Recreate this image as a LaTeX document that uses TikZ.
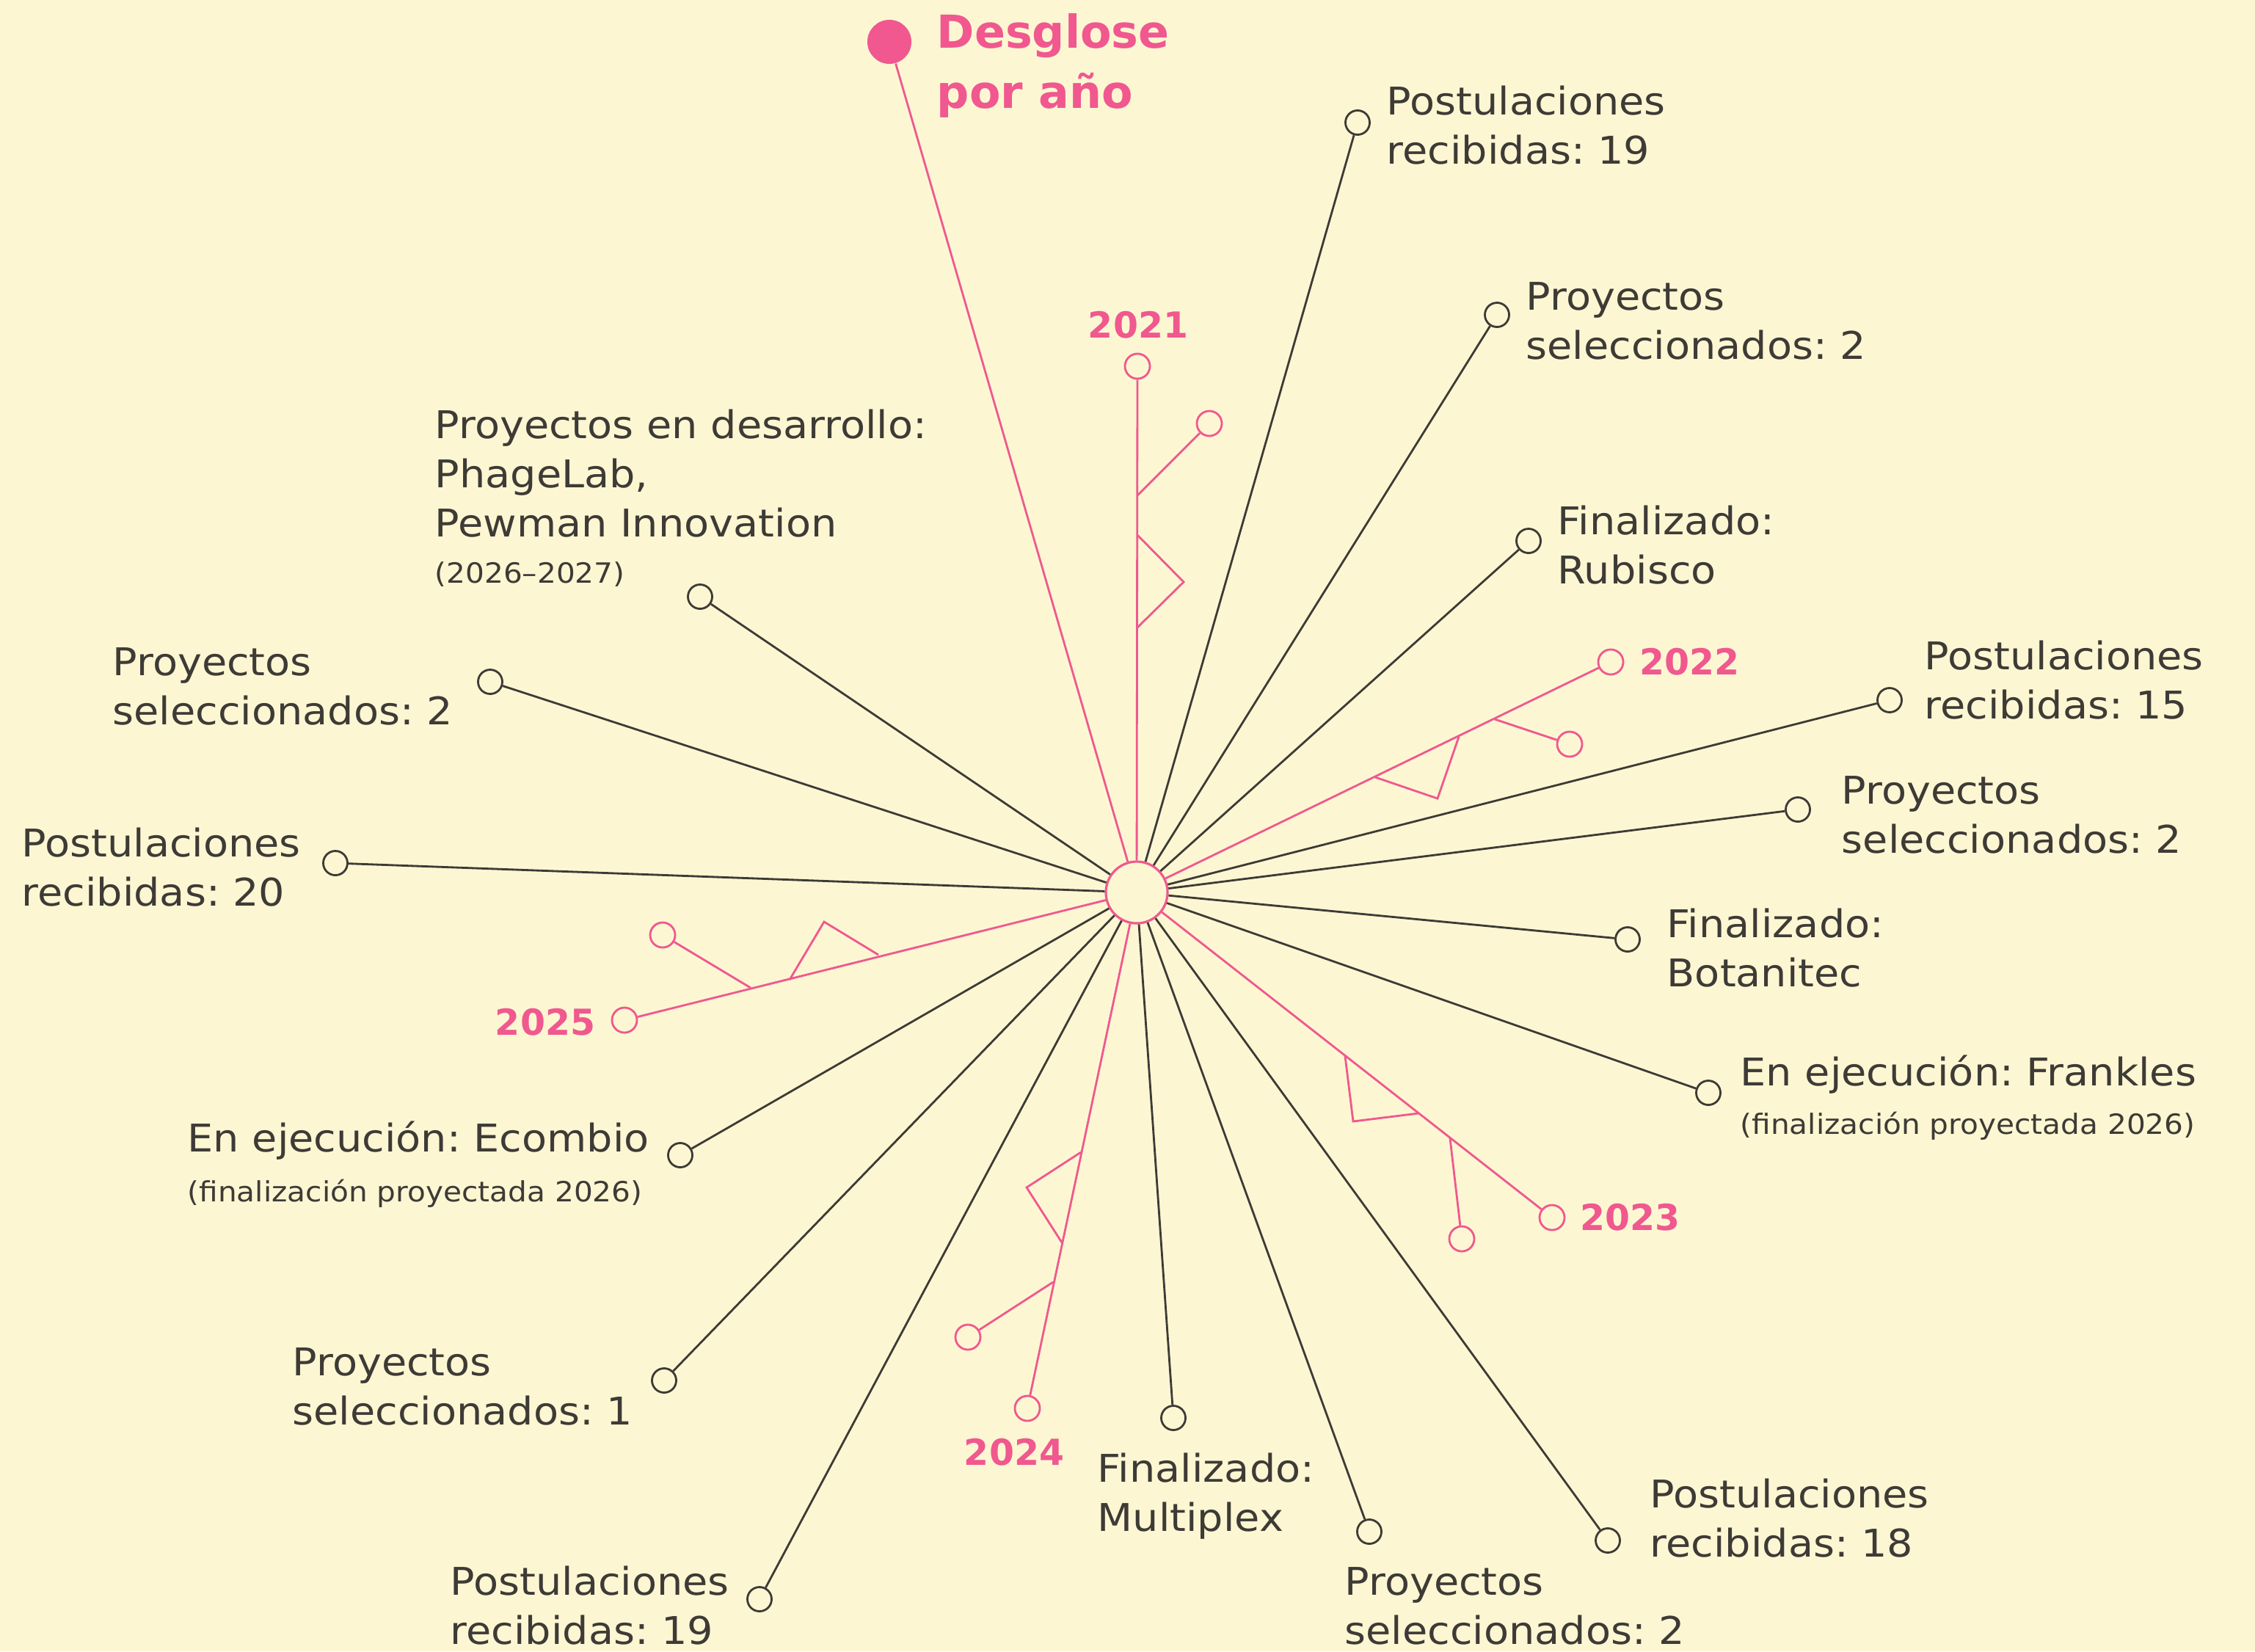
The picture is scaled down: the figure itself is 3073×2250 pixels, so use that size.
\documentclass[tikz,border=0pt]{standalone}
\usepackage{fontspec}
\setmainfont{DejaVu Sans}
\newfontfamily\lblfont{DejaVu Sans}[FakeStretch=1.07]
\newfontfamily\ttlfont{DejaVu Sans}[FakeStretch=1.0]
\definecolor{bg}{RGB}{252,247,210}
\definecolor{pk}{RGB}{240,88,143}
\definecolor{ink}{RGB}{62,58,54}
\frenchspacing
\tikzset{
  hubc/.style={circle, draw=pk, line width=0.9pt, fill=bg, minimum size=0.84cm, inner sep=0pt},
  endb/.style={circle, draw=ink, line width=0.8pt, fill=bg, minimum size=0.33cm, inner sep=0pt},
  endp/.style={circle, draw=pk, line width=0.8pt, fill=bg, minimum size=0.34cm, inner sep=0pt},
  titledot/.style={circle, fill=pk, draw=none, minimum size=0.6cm, inner sep=0pt},
  spk/.style={draw=ink, line width=0.8pt},
  spp/.style={draw=pk, line width=0.8pt, line join=miter},
  lbl/.style={anchor=west, align=left, inner sep=0pt, yshift=-0.04cm, text=ink, font=\lblfont\frenchspacing\fontsize{14.8pt}{19.06pt}\selectfont},
  note/.style={anchor=west, align=left, inner sep=0pt, yshift=-0.03cm, text=ink, font=\lblfont\frenchspacing\fontsize{10.8pt}{13.5pt}\selectfont},
  yearlbl/.style={inner sep=0pt, text=pk, font=\ttlfont\bfseries\fontsize{13.9pt}{16pt}\selectfont},
  ttl/.style={anchor=west, align=left, inner sep=0pt, text=pk, font=\ttlfont\bfseries\fontsize{17.6pt}{23.3pt}\selectfont}
}
\begin{document}
\begin{tikzpicture}[x=0.01cm,y=-0.01cm]
\fill[bg] (0,0) rectangle (3073,2250);
\useasboundingbox (0,0) rectangle (3073,2250);

% hub and title
\node[hubc] (hub) at (1549,1216) {};
\node[titledot] (tdot) at (1212,57) {};
\node[ttl] (title) at (1276,90) {Desglose\strut\\por año\strut};

% black end circles
\node[endb] (e1) at (1850,167) {};
\node[endb] (e2) at (2040,429) {};
\node[endb] (e3) at (2083,737) {};
\node[endb] (e4) at (2575,954) {};
\node[endb] (e5) at (2450,1103) {};
\node[endb] (e6) at (2218,1280) {};
\node[endb] (e7) at (2328,1489) {};
\node[endb] (e8) at (2191,2099) {};
\node[endb] (e9) at (1866,2087) {};
\node[endb] (e10) at (1599,1932) {};
\node[endb] (e11) at (1035,2179) {};
\node[endb] (e12) at (905,1881) {};
\node[endb] (e13) at (927,1574) {};
\node[endb] (e14) at (457,1176) {};
\node[endb] (e15) at (668,929) {};
\node[endb] (e16) at (954,813) {};

% pink year circles and branch circles
\node[endp] (y21) at (1550,499) {};
\node[endp] (s21) at (1648,577) {};
\node[endp] (y22) at (2195,902) {};
\node[endp] (s22) at (2139,1014) {};
\node[endp] (y23) at (2115,1659) {};
\node[endp] (s23) at (1992,1688) {};
\node[endp] (y24) at (1400,1919) {};
\node[endp] (s24) at (1319,1822) {};
\node[endp] (y25) at (851,1390) {};
\node[endp] (s25) at (903,1274) {};

% branch joints and triangle points
\coordinate (j21) at (1550,675);
\coordinate (t21a) at (1550,729);
\coordinate (t21b) at (1613,793);
\coordinate (t21c) at (1550,855);
\coordinate (j22) at (2037,980);
\coordinate (t22a) at (1874,1059);
\coordinate (t22b) at (1959,1088);
\coordinate (t22c) at (1988,1004);
\coordinate (j23) at (1976,1551);
\coordinate (t23a) at (1833,1439);
\coordinate (t23b) at (1844,1528);
\coordinate (t23c) at (1933,1517);
\coordinate (j24) at (1435,1747);
\coordinate (t24a) at (1473,1570);
\coordinate (t24b) at (1399,1618);
\coordinate (t24c) at (1447,1693);
\coordinate (j25) at (1023,1346);
\coordinate (t25a) at (1076,1335);
\coordinate (t25b) at (1123,1256);
\coordinate (t25c) at (1197,1301);

% black spokes
\foreach \e in {e1,e2,e3,e4,e5,e6,e7,e8,e9,e10,e11,e12,e13,e14,e15,e16}
  \draw[spk] (hub) -- (\e);

% pink spokes
\draw[spp] (hub) -- (tdot);
\foreach \y in {y21,y22,y23,y24,y25}
  \draw[spp] (hub) -- (\y);
\draw[spp] (j21) -- (s21);
\draw[spp] (t21a) -- (t21b) -- (t21c);
\draw[spp] (j22) -- (s22);
\draw[spp] (t22a) -- (t22b) -- (t22c);
\draw[spp] (j23) -- (s23);
\draw[spp] (t23a) -- (t23b) -- (t23c);
\draw[spp] (j24) -- (s24);
\draw[spp] (t24a) -- (t24b) -- (t24c);
\draw[spp] (j25) -- (s25);
\draw[spp] (t25a) -- (t25b) -- (t25c);

% year labels
\node[yearlbl] (l21) at (1551,443) {2021};
\node[yearlbl, anchor=west] (l22) at (2234,902) {2022};
\node[yearlbl, anchor=west] (l23) at (2153,1659) {2023};
\node[yearlbl] (l24) at (1382,1979) {2024};
\node[yearlbl] (l25) at (743,1393) {2025};

% text labels
\node[lbl] (t1) at (1889,173) {Postulaciones\strut\\recibidas: 19\strut};
\node[lbl] (t2) at (2079,439) {Proyectos\strut\\seleccionados: 2\strut};
\node[lbl] (t3) at (2122,745) {Finalizado:\strut\\Rubisco\strut};
\node[lbl] (t4) at (2622,929) {Postulaciones\strut\\recibidas: 15\strut};
\node[lbl] (t5) at (2509,1112) {Proyectos\strut\\seleccionados: 2\strut};
\node[lbl] (t6) at (2271,1294) {Finalizado:\strut\\Botanitec\strut};
\node[lbl] (t7) at (2371,1462) {En ejecución: Frankles\strut};
\node[note] (n7) at (2371,1533) {(finalización proyectada 2026)\strut};
\node[lbl] (t8) at (2248,2071) {Postulaciones\strut\\recibidas: 18\strut};
\node[lbl] (t9) at (1832,2190) {Proyectos\strut\\seleccionados: 2\strut};
\node[lbl] (t10) at (1495,2036) {Finalizado:\strut\\Multiplex\strut};
\node[lbl] (t11) at (613,2190) {Postulaciones\strut\\recibidas: 19\strut};
\node[lbl] (t12) at (398,1891) {Proyectos\strut\\seleccionados: 1\strut};
\node[lbl] (t13) at (255,1552) {En ejecución: Ecombio\strut};
\node[note] (n13) at (255,1625) {(finalización proyectada 2026)\strut};
\node[lbl] (t14) at (29,1184) {Postulaciones\strut\\recibidas: 20\strut};
\node[lbl] (t15) at (153,937) {Proyectos\strut\\seleccionados: 2\strut};
\node[lbl] (t16) at (592,647) {Proyectos en desarrollo:\strut\\PhageLab,\strut\\Pewman Innovation\strut};
\node[note] (n16) at (592,782) {(2026–2027)\strut};
\end{tikzpicture}
\end{document}
